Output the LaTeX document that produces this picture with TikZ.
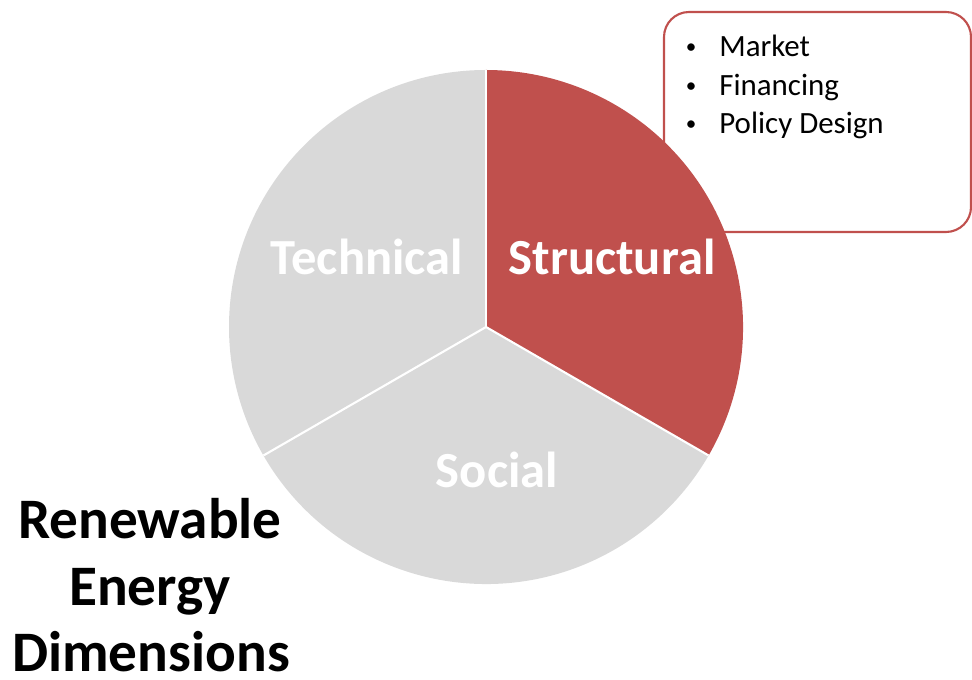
\documentclass[tikz,border=0pt]{standalone}
\usepackage{fontspec}
\setmainfont{Carlito}
\usetikzlibrary{calc}

\definecolor{pieRed}{HTML}{C0504D}
\definecolor{pieGray}{HTML}{D9D9D9}

\tikzset{
  sectorlabel/.style={anchor=base, text=white, font=\fontsize{28.8}{34}\selectfont\bfseries, inner sep=0pt},
  bulletitem/.style={anchor=base west, font=\fontsize{17.6}{21}\selectfont, inner sep=0pt},
  bulletdot/.style={anchor=base, font=\fontsize{12}{14}\selectfont, inner sep=0pt},
  titleline/.style={anchor=base, font=\fontsize{32.6}{38}\selectfont\bfseries, inner sep=0pt}
}

\begin{document}
\begin{tikzpicture}[x=0.02cm,y=0.02cm]
    \useasboundingbox (0,0) rectangle (972,679);
    % callout box behind the pie
    \draw[pieRed, line width=1.2pt, fill=white, rounded corners=0.5cm] (664,447) rectangle (971,667);
    \node[bulletdot] (b1) at (691,625) {\textbullet};
    \node[bulletitem] (t1) at (719,622) {Market};
    \node[bulletdot] (b2) at (691,586) {\textbullet};
    \node[bulletitem] (t2) at (719,583) {Financing};
    \node[bulletdot] (b3) at (691,548) {\textbullet};
    \node[bulletitem] (t3) at (719,545) {Policy Design};
    % the pie
    \coordinate (c) at (486,352);
    \fill[pieGray] (c) -- ++(90:257) arc (90:210:257) -- cycle;
    \fill[pieGray] (c) -- ++(210:257) arc (210:330:257) -- cycle;
    \fill[pieRed] (c) -- ++(-30:257) arc (-30:90:257) -- cycle;
    \draw[white, line width=1.2pt] (c) -- ++(90:257);
    \draw[white, line width=1.2pt] (c) -- ++(210:257);
    \draw[white, line width=1.2pt] (c) -- ++(-30:257);
    \node[sectorlabel] (tech) at (367,404) {Technical};
    \node[sectorlabel] (struct) at (612,404) {Structural};
    \node[sectorlabel] (soc) at (497,191) {Social};
    % title
    \node[titleline] (title1) at (150,141) {Renewable};
    \node[titleline] (title2) at (150,74) {Energy};
    \node[titleline] (title3) at (151,8) {Dimensions};
\end{tikzpicture}
\end{document}
